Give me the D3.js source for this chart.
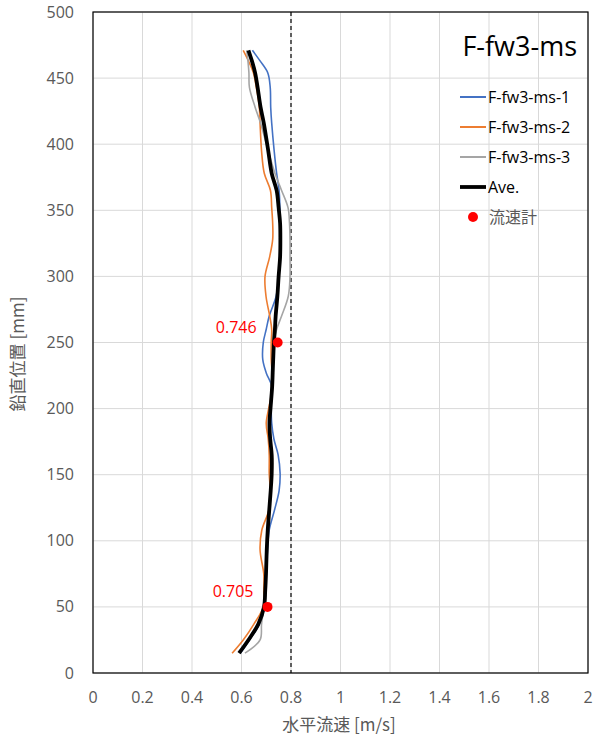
<!DOCTYPE html>
<html><head><meta charset="utf-8">
<script src="https://cdn.jsdelivr.net/npm/d3@7"></script>
<style>body{margin:0;background:#fff}svg{display:block}text{font-family:"Open Sans","Noto Sans CJK JP",sans-serif}.jp{font-family:"Noto Sans CJK JP",sans-serif}</style>
</head><body><svg id="c" width="600" height="740"></svg>
<script>
const heights = [15,25,37,50,63,75,93,108,123,138,151,165,177,189,202,217,227,237,250,260,270,285,300,315,328,340,352,365,378,395,416,428,443,454,463,471];
const ms1 = [0.595,0.632,0.672,0.693,0.697,0.699,0.705,0.712,0.733,0.752,0.756,0.748,0.731,0.722,0.720,0.722,0.700,0.686,0.688,0.700,0.712,0.740,0.750,0.754,0.756,0.756,0.755,0.752,0.742,0.732,0.722,0.718,0.716,0.706,0.675,0.644];
const ms2 = [0.562,0.607,0.650,0.688,0.690,0.690,0.675,0.682,0.710,0.716,0.712,0.712,0.708,0.700,0.712,0.726,0.724,0.720,0.720,0.722,0.714,0.699,0.695,0.714,0.726,0.726,0.722,0.717,0.692,0.681,0.675,0.672,0.660,0.648,0.628,0.607];
const ms3 = [0.614,0.675,0.681,0.690,0.695,0.700,0.705,0.708,0.712,0.718,0.720,0.720,0.716,0.712,0.716,0.720,0.724,0.727,0.731,0.742,0.762,0.789,0.796,0.796,0.796,0.794,0.788,0.762,0.735,0.708,0.677,0.655,0.632,0.630,0.626,0.621];
const ave = [0.590,0.628,0.668,0.691,0.696,0.699,0.702,0.706,0.712,0.718,0.722,0.722,0.716,0.713,0.718,0.724,0.726,0.728,0.731,0.735,0.738,0.745,0.750,0.756,0.757,0.756,0.750,0.742,0.722,0.708,0.690,0.677,0.665,0.655,0.642,0.628];
const meterH = [250, 50];
const meterV = [0.746, 0.705];
const meterLabels = ["0.746", "0.705"];
const seriesNames = ["F-fw3-ms-1","F-fw3-ms-2","F-fw3-ms-3","Ave."];
const meterName = "流速計";
const chartTitle = "F-fw3-ms";
const xTicks = [0,0.2,0.4,0.6,0.8,1,1.2,1.4,1.6,1.8,2];
const yTicks = [0,50,100,150,200,250,300,350,400,450,500];
const refLineV = 0.8;

const svg = d3.select("#c");
const L=93,R=588,T=12,B=673;
const x = d3.scaleLinear().domain([0,2]).range([L,R]);
const y = d3.scaleLinear().domain([0,500]).range([B,T]);
const tc = "#595959";

// grid
svg.append("g").selectAll("line").data(xTicks).join("line")
  .attr("x1",d=>x(d)).attr("x2",d=>x(d)).attr("y1",T).attr("y2",B)
  .attr("stroke","#d9d9d9").attr("stroke-width",1);
svg.append("g").selectAll("line").data(yTicks).join("line")
  .attr("x1",L).attr("x2",R).attr("y1",d=>y(d)).attr("y2",d=>y(d))
  .attr("stroke","#d9d9d9").attr("stroke-width",1);

// tick labels
svg.append("g").selectAll("text").data(xTicks).join("text")
  .attr("x",d=>x(d)).attr("y",B+30).attr("text-anchor","middle")
  .attr("font-size",16).attr("fill",tc).text(d=>d);
svg.append("g").selectAll("text").data(yTicks).join("text")
  .attr("x",L-19).attr("y",d=>y(d)+5.5).attr("text-anchor","end")
  .attr("font-size",16).attr("fill",tc).text(d=>d);

// axis titles
svg.append("text").attr("class","jp").attr("x",339).attr("y",731).attr("text-anchor","middle")
  .attr("font-size",17).attr("fill",tc).text("水平流速 [m/s]");
svg.append("text").attr("class","jp").attr("transform","translate(24,354) rotate(-90)").attr("text-anchor","middle")
  .attr("font-size",17).attr("fill",tc).text("鉛直位置 [mm]");

// ref dashed line
svg.append("line").attr("x1",x(refLineV)).attr("x2",x(refLineV)).attr("y1",T).attr("y2",B)
  .attr("stroke","#000").attr("stroke-width",1.2).attr("stroke-dasharray","4,3");

// series
const line = d3.line().x(d=>x(d[0])).y(d=>y(d[1])).curve(d3.curveCatmullRom.alpha(0.5));
const series = [
  {v:ms1,c:"#4472C4",w:1.6},
  {v:ms2,c:"#ED7D31",w:1.6},
  {v:ms3,c:"#A5A5A5",w:1.6},
  {v:ave,c:"#000000",w:3.8}
];
series.forEach(s=>{
  svg.append("path").datum(s.v.map((v,i)=>[v,heights[i]]))
    .attr("d",line).attr("fill","none").attr("stroke",s.c).attr("stroke-width",s.w)
    .attr("stroke-linejoin","round");
});

// meter points
const labelDx = [-21,-14];
svg.append("g").selectAll("circle").data(meterV).join("circle")
  .attr("cx",d=>x(d)).attr("cy",(d,i)=>y(meterH[i])).attr("r",5).attr("fill","#FF0000");
svg.append("g").selectAll("text").data(meterLabels).join("text")
  .attr("x",(d,i)=>x(meterV[i])+labelDx[i]).attr("y",(d,i)=>y(meterH[i])-9.5).attr("text-anchor","end")
  .attr("font-size",16).attr("fill","#FF0000").text(d=>d);

// border
svg.append("rect").attr("x",L).attr("y",T).attr("width",R-L).attr("height",B-T)
  .attr("fill","none").attr("stroke","#000").attr("stroke-width",1.2);

// title
svg.append("text").attr("x",577).attr("y",56).attr("text-anchor","end")
  .attr("font-size",27).attr("fill","#000").text(chartTitle);

// legend
const lg = svg.append("g");
const rowsY = [97,127,157,187];
series.forEach((s,i)=>{
  lg.append("line").attr("x1",460).attr("x2",486).attr("y1",rowsY[i]).attr("y2",rowsY[i])
    .attr("stroke",s.c).attr("stroke-width",i===3?3.8:2);
  lg.append("text").attr("x",488).attr("y",rowsY[i]+6).attr("font-size",16).attr("fill","#000").text(seriesNames[i]);
});
lg.append("circle").attr("cx",473).attr("cy",217).attr("r",5).attr("fill","#FF0000");
lg.append("text").attr("class","jp").attr("x",489).attr("y",223).attr("font-size",16).attr("fill",tc).text(meterName);
</script></body></html>
